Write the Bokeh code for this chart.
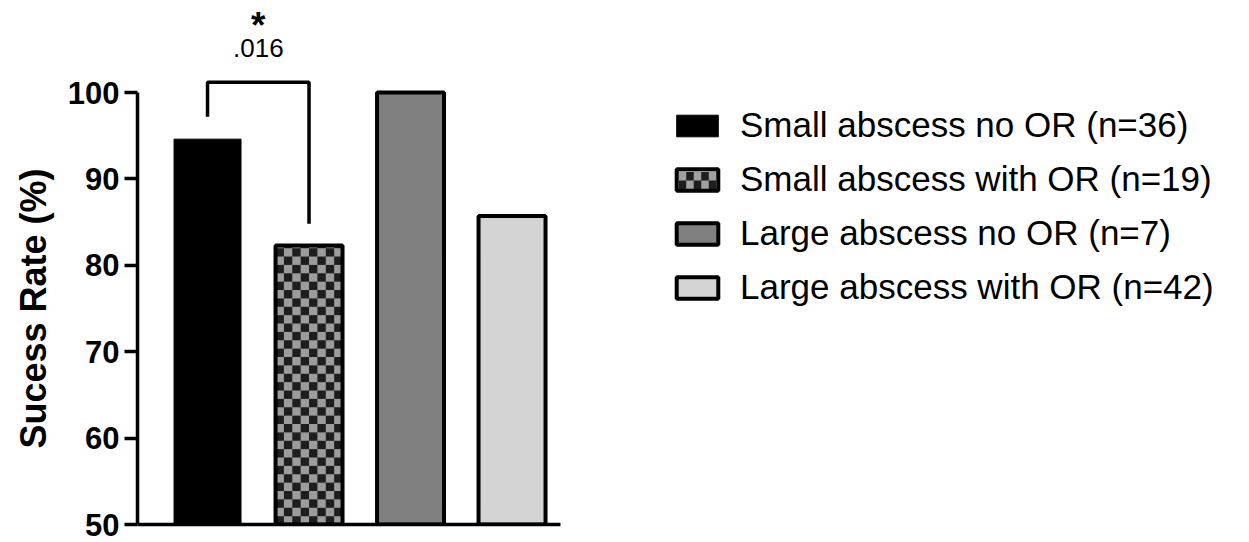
import math
from bokeh.plotting import figure
from bokeh.models import Legend, LegendItem, FixedTicker, Range1d, Title
from bokeh.core.properties import value
from bokeh.embed import file_html
from bokeh.resources import INLINE

# ---- data ----
categories = ["Small abscess no OR (n=36)", "Small abscess with OR (n=19)",
              "Large abscess no OR (n=7)", "Large abscess with OR (n=42)"]
success_rate = [94.6, 82.3, 100.0, 85.7]
y_ticks = [50, 60, 70, 80, 90, 100]
# significance bracket between bar 1 and bar 2
bracket_pair = [1, 2]
bracket_legs = [97.2, 84.8]   # bottom of left and right legs
bracket_top = 101.2
p_value_text = ".016"
star_text = "*"
y_label = "Sucess Rate (%)"

# ---- styles / layout ----
fills = ["#000000", "#9c9c9c", "#808080", "#d4d4d4"]
DARK = "#1e1e1e"
FONT = "Liberation Sans"
BAR_W = 0.66
BASE = 50
W, H = 1245, 542
ML, MR, MT, MB = 137, 0, 4, 18
PX_X, PX_Y = 101.5, 8.64            # pixels per data unit
X0, Y0 = 0.31, 50
X1 = X0 + (W - ML - MR) / PX_X
Y1 = Y0 + (H - MT - MB) / PX_Y


def dx(px):   # page pixel -> data x
    return X0 + (px - ML) / PX_X


def dy(py):   # page pixel -> data y
    return Y0 + (H - MB - py) / PX_Y


xs = [i + 1 for i in range(len(categories))]

p = figure(width=W, height=H, output_backend="svg", toolbar_location=None,
           x_range=Range1d(X0, X1), y_range=Range1d(Y0, Y1),
           min_border_left=ML, min_border_right=MR, min_border_top=MT, min_border_bottom=MB)
p.outline_line_color = None
p.grid.visible = False
p.background_fill_color = "white"

# legend glyph box geometry (legend location is relative to frame bottom-left)
LEG_X, LEG_Y = 534, 217
GW, GH = 52, 27

legend_renderers = []
for i, (x, v) in enumerate(zip(xs, success_rate)):
    if i == 1:
        p.vbar(x=[x], top=[v], bottom=BASE, width=BAR_W, fill_color=fills[i], line_color=None)
        cw = BAR_W / 8
        ch = cw * PX_X / PX_Y
        nrows = int(math.ceil((v - BASE) / ch))
        L, R, B, T = [], [], [], []
        for r_ in range(nrows):
            for c_ in range(8):
                if (r_ + c_) % 2 == 0:
                    L.append(x - BAR_W / 2 + c_ * cw)
                    R.append(x - BAR_W / 2 + (c_ + 1) * cw)
                    B.append(BASE + r_ * ch)
                    T.append(min(BASE + (r_ + 1) * ch, v))
        p.quad(left=L, right=R, bottom=B, top=T, fill_color=DARK, line_color=None)
        p.vbar(x=[x], top=[v], bottom=BASE, width=BAR_W, fill_color=None, line_color="black", line_width=4)
        # checker swatch under the (transparent) legend glyph of item 2
        gx0 = ML + LEG_X + 0.1 * GW + 2
        gx1 = ML + LEG_X + 0.9 * GW - 2
        gyc = 180
        gy0, gy1 = gyc - 0.4 * GH + 2, gyc + 0.4 * GH - 2
        p.quad(left=[dx(gx0)], right=[dx(gx1)], bottom=[dy(gy1)], top=[dy(gy0)],
               fill_color=DARK, line_color=None)
        sw = (gx1 - gx0) / 5
        sh = (gy1 - gy0) / 2
        cl, cr, cb, ct = [], [], [], []
        for r_ in range(2):
            for c_ in range(5):
                if (r_ + c_) % 2 == 0:
                    cl.append(dx(gx0 + c_ * sw)); cr.append(dx(gx0 + (c_ + 1) * sw))
                    ct.append(dy(gy0 + r_ * sh)); cb.append(dy(gy0 + (r_ + 1) * sh))
        p.quad(left=cl, right=cr, bottom=cb, top=ct, fill_color="#a0a0a0", line_color=None)
        r = p.vbar(x=[float("nan")], top=[float("nan")], bottom=BASE, width=BAR_W,
                   fill_alpha=0, line_color="black", line_width=4)
    else:
        r = p.vbar(x=[x], top=[v], bottom=BASE, width=BAR_W, fill_color=fills[i],
                   line_color="black", line_width=4 if i else 1)
    legend_renderers.append(r)

# bracket
bx = [xs[bracket_pair[0] - 1], xs[bracket_pair[0] - 1], xs[bracket_pair[1] - 1], xs[bracket_pair[1] - 1]]
by = [bracket_legs[0], bracket_top, bracket_top, bracket_legs[1]]
p.line(bx, by, line_color="black", line_width=3.5)
mid = (bx[0] + bx[-1]) / 2
p.text(x=[mid], y=[105.15], text=[p_value_text], text_align="center", text_baseline="middle",
       text_font=value(FONT), text_font_size="26px", text_color="black")
p.text(x=[mid], y=[107.7], text=[star_text], text_align="center", text_baseline="middle",
       text_font=value(FONT), text_font_size="37px", text_font_style="bold", text_color="black")

# y axis
ya = p.yaxis[0]
ya.ticker = FixedTicker(ticks=y_ticks)
ya.bounds = (50, 100)
ya.axis_line_width = 3.5
ya.major_tick_line_width = 3.5
ya.major_tick_out = 13
ya.major_tick_in = 0
ya.minor_tick_line_color = None
ya.major_label_text_font = FONT
ya.major_label_text_font_style = "bold"
ya.major_label_text_font_size = "31px"
ya.major_label_text_color = "black"
ya.major_label_standoff = 5

p.add_layout(Title(text=y_label, align="left", offset=76, vertical_align="middle", standoff=19,
                   text_font=FONT, text_font_style="bold", text_font_size="36px",
                   text_color="black"), "left")

# x axis (baseline only)
xa = p.xaxis[0]
xa.ticker = FixedTicker(ticks=[])
xa.bounds = (X0, 4.48)
xa.axis_line_width = 3.5
xa.major_tick_line_color = None
xa.major_tick_out = 0
xa.major_tick_in = 0
xa.minor_tick_line_color = None
xa.minor_tick_out = 0
xa.major_label_standoff = 0

legend = Legend(items=[LegendItem(label=c, renderers=[r]) for c, r in zip(categories, legend_renderers)],
                location=(LEG_X, LEG_Y), orientation="vertical",
                glyph_width=GW, glyph_height=GH, label_standoff=17, spacing=14,
                padding=0, margin=0, border_line_alpha=0, background_fill_alpha=0,
                label_text_font=FONT, label_text_font_size="35px", label_text_color="black")
p.add_layout(legend, "center")

open("out.html", "w").write(file_html(p, INLINE))
